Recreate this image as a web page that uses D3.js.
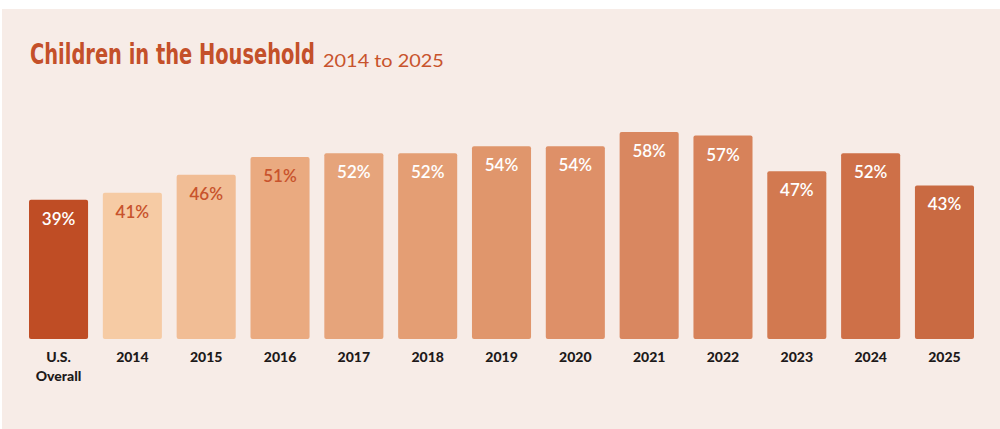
<!DOCTYPE html>
<html>
<head>
<meta charset="utf-8">
<script src="https://cdn.jsdelivr.net/npm/d3@7"></script>
<style>
  html, body { margin: 0; padding: 0; background: #ffffff; }
  svg { display: block; }
</style>
</head>
<body>
<svg id="chart" width="1000" height="429"></svg>
<script>
// Share of households with children, U.S. overall and by survey year
const categories = ["U.S.\nOverall", "2014", "2015", "2016", "2017", "2018", "2019", "2020", "2021", "2022", "2023", "2024", "2025"];
const values = [39, 41, 46, 51, 52, 52, 54, 54, 58, 57, 47, 52, 43];
const barColors = ["#BF4D25", "#F6CBA4", "#F1BD95", "#EAAA80", "#E6A47B", "#E49E74", "#E0966C", "#DE9068", "#D98760", "#D7825A", "#D27950", "#CE7048", "#C96A42"];
const labelColors = ["#ffffff", "#C8532C", "#C8532C", "#C8532C", "#ffffff", "#ffffff", "#ffffff", "#ffffff", "#ffffff", "#ffffff", "#ffffff", "#ffffff", "#ffffff"];
const titleText = "Children in the Household";
const subtitleText = "2014 to 2025";

const svg = d3.select("#chart");

// panel background
svg.append("rect")
  .attr("x", 2).attr("y", 9)
  .attr("width", 998).attr("height", 420)
  .attr("fill", "#F7ECE7");

// title, squeezed horizontally to a condensed width
const titleWidth = 285;
const title = svg.append("text")
  .attr("font-family", "'Liberation Sans Narrow', 'DejaVu Sans Condensed', 'Roboto Condensed', sans-serif")
  .attr("font-stretch", "condensed")
  .attr("font-weight", 700)
  .attr("font-size", 28)
  .attr("fill", "#C4502A")
  .text(titleText);
const natural = title.node().getComputedTextLength();
title.attr("transform", `translate(30,64) scale(${titleWidth / natural},1)`);

// subtitle
const sub = svg.append("text")
  .attr("font-family", "Lato, 'Open Sans', sans-serif")
  .attr("font-weight", 400)
  .attr("font-size", 18)
  .attr("fill", "#C8532C")
  .text(subtitleText);
const subNatural = sub.node().getComputedTextLength();
sub.attr("transform", `translate(323,67) scale(${121 / subNatural},1)`);

// scales
const x = d3.scaleBand()
  .domain(categories)
  .range([29, 974])
  .paddingInner(0.2)
  .paddingOuter(0);

const y = d3.scaleLinear()
  .domain([0, 100])
  .range([339, -18]);

const data = categories.map((c, i) => ({ c, v: values[i], fill: barColors[i], lc: labelColors[i] }));

// bars
svg.append("g").selectAll("rect")
  .data(data)
  .join("rect")
  .attr("x", d => x(d.c))
  .attr("y", d => y(d.v))
  .attr("width", x.bandwidth())
  .attr("height", d => y(0) - y(d.v))
  .attr("rx", 2)
  .attr("fill", d => d.fill);

// value labels
svg.append("g").selectAll("text")
  .data(data)
  .join("text")
  .attr("x", d => x(d.c) + x.bandwidth() / 2)
  .attr("y", d => y(d.v) + 25)
  .attr("text-anchor", "middle")
  .attr("font-family", "Lato, 'Open Sans', sans-serif")
  .attr("font-weight", 600)
  .attr("font-size", 17)
  .attr("fill", d => d.lc)
  .text(d => d.v + "%");

// category axis
const axis = d3.axisBottom(x).tickSize(0).tickPadding(0);
const gx = svg.append("g")
  .attr("transform", `translate(0,${y(0)})`)
  .call(axis);
gx.select(".domain").remove();
gx.selectAll(".tick text").remove();
gx.selectAll(".tick").append("text")
  .attr("text-anchor", "middle")
  .attr("font-family", "Lato, 'Open Sans', sans-serif")
  .attr("font-weight", 900)
  .attr("font-size", 14)
  .attr("fill", "#1E1A1A")
  .selectAll("tspan")
  .data(d => d.split("\n"))
  .join("tspan")
  .attr("x", 0)
  .attr("y", (d, i) => 23 + i * 19)
  .text(d => d);
</script>
</body>
</html>
